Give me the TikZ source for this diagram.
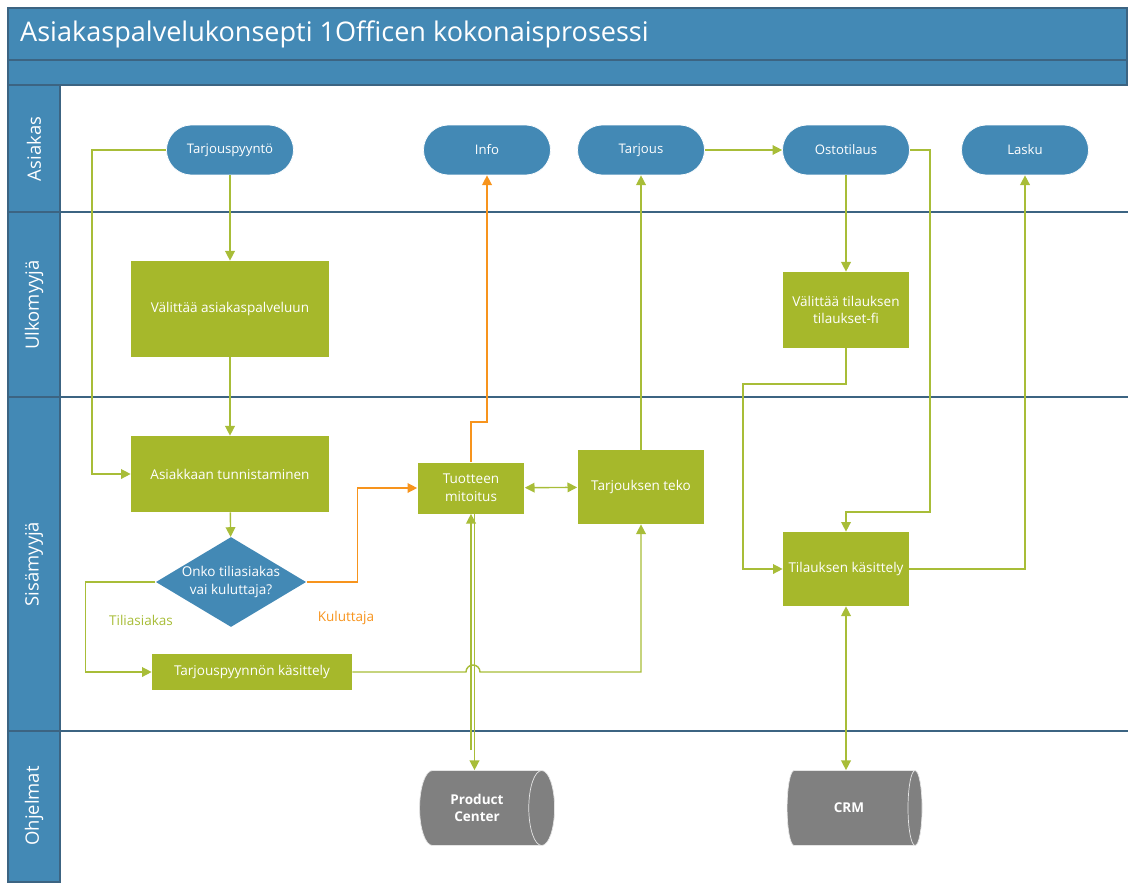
\documentclass[tikz,border=0pt]{standalone}
\usepackage{fontspec}
\setmainfont{Open Sans}
\usetikzlibrary{shapes.geometric, arrows.meta, positioning, calc}
\definecolor{laneblue}{HTML}{4389B5}
\definecolor{laneline}{HTML}{3C6482}
\definecolor{boxgreen}{HTML}{A6B82B}
\definecolor{flowgreen}{HTML}{A8BD38}
\definecolor{floworange}{HTML}{F7941D}
\definecolor{storegray}{HTML}{808080}

\begin{document}
\begin{tikzpicture}[x=0.02cm, y=-0.02cm,
  lane/.style={fill=laneblue, draw=laneline, line width=0.8pt},
  lanelabel/.style={rotate=90, text=white, font=\fontsize{10.5}{13}\selectfont},
  term/.style={rectangle, rounded corners=0.5cm, fill=laneblue, draw=white,
    minimum width=2.54cm, minimum height=1cm, text=white, font=\fontsize{7.5}{9}\selectfont},
  task/.style={rectangle, fill=boxgreen, text=white, align=center, inner sep=2pt,
    font=\fontsize{7.7}{10}\selectfont},
  decision/.style={diamond, fill=laneblue, text=white, align=center, inner sep=0pt,
    aspect=1.67, minimum width=3cm, minimum height=1.8cm, font=\fontsize{7.7}{10}\selectfont},
  store/.style={cylinder, fill=storegray, draw=white!80!gray, shape aspect=0.65,
    minimum height=2.7cm, minimum width=1.5cm, text=white, align=center,
    font=\bfseries\fontsize{7.7}{10}\selectfont},
  flow/.style={draw=flowgreen, line width=0.8pt, -{Triangle[width=5.5pt,length=5.5pt]}},
  flowboth/.style={flow, {Triangle[width=5.5pt,length=5.5pt]}-{Triangle[width=5.5pt,length=5.5pt]}},
  floworg/.style={flow, draw=floworange},
  branch/.style={font=\fontsize{7.7}{9}\selectfont}
]
  \useasboundingbox (0,0) rectangle (1128,882);
  % lanes
  \draw[lane] (8,8) rectangle (1127,60);
  \draw[lane] (8,60) rectangle (1127,85);
  \draw[lane] (8,85) rectangle (60,882);
  \foreach \y in {212,397,731}
    \draw[laneline, line width=0.8pt] (8,\y) -- (1128,\y);
  \node[text=white, anchor=west, font=\fontsize{15.4}{18}\selectfont] (title) at (14,34)
    {Asiakaspalvelukonsepti 1Officen kokonaisprosessi};
  \node[lanelabel] (asiakas) at (34,149) {Asiakas};
  \node[lanelabel] (ulko) at (34,305) {Ulkomyyjä};
  \node[lanelabel] (sisa) at (34,564) {Sisämyyjä};
  \node[lanelabel] (ohjelmat) at (34,806) {Ohjelmat};

  \node[term] (pyynto) at (230,150) {Tarjouspyyntö};
  \node[term] (info) at (487,150) {Info};
  \node[term] (tarjous) at (641,150) {Tarjous};
  \node[term] (ostotilaus) at (846,150) {Ostotilaus};
  \node[term] (lasku) at (1025,150) {Lasku};

  \node[task, minimum width=3.96cm, minimum height=1.92cm] (valitys) at (230,309) {Välittää asiakaspalveluun};
  \node[task, minimum width=2.52cm, minimum height=1.52cm] (tilvalitys) at (846,310) {Välittää tilauksen\\tilaukset-fi};
  \node[task, minimum width=3.96cm, minimum height=1.52cm] (tunnistus) at (230,474) {Asiakkaan tunnistaminen};
  \node[task, minimum width=2.14cm, minimum height=1.02cm] (mitoitus) at (471,488) {Tuotteen\\mitoitus};
  \node[task, minimum width=2.54cm, minimum height=1.48cm] (teko) at (641,487) {Tarjouksen teko};
  \node[decision] (tyyppi) at (231,582) {Onko tiliasiakas\\vai kuluttaja?};
  \node[task, minimum width=4cm, minimum height=0.72cm] (kasittely) at (252,672) {Tarjouspyynnön käsittely};
  \node[task, minimum width=2.52cm, minimum height=1.48cm] (tilkas) at (846,569) {Tilauksen käsittely};
  \node[store] (pc) at (477,808) {Product\\Center};
  \node[store] (crm) at (849,808) {CRM};

  \node[branch, text=flowgreen] (tili) at (141,620) {Tiliasiakas};
  \node[branch, text=floworange] (kulu) at (346,618) {Kuluttaja};

  % connectors
  \draw[flow] (pyynto.west) -| (92,474) -- (tunnistus.west);
  \draw[flow] (pyynto) -- (valitys);
  \draw[flow] (valitys) -- (tunnistus);
  \draw[flow] (tunnistus) -- (tyyppi);
  \draw[flow] (tyyppi.west) -- ++(-70,0) |- (kasittely.west);
  \draw[floworg] (tyyppi.east) -- ++(51,0) |- (mitoitus.west);
  \draw[floworg] (mitoitus.north) -- ++(0,-40) -| (info.south);
  \draw[flowboth] (mitoitus) -- (teko);
  \draw[flow] (teko) -- (tarjous);
  \draw[flow] (tarjous) -- (ostotilaus);
  \draw[flow] (ostotilaus) -- (tilvalitys);
  \draw[flow] (ostotilaus.east) -| (930,512) -| (tilkas.north);
  \draw[flow] (tilvalitys.south) |- (743,384) |- (tilkas.west);
  \draw[flow] (tilkas.east) -| (lasku.south);
  \draw[flow] (kasittely.east) -- (466,672) arc[start angle=180, end angle=360, radius=7] -| (teko.south);
  \draw[flow] ([xshift=0.07cm]mitoitus.south) -- ([xshift=0.07cm]mitoitus.south |- pc.north);
  \draw[flow] ([yshift=0.4cm]mitoitus.south |- pc.north) -- (mitoitus.south);
  \draw[flowboth] (tilkas.south) -- (tilkas.south |- crm.north);
\end{tikzpicture}
\end{document}
